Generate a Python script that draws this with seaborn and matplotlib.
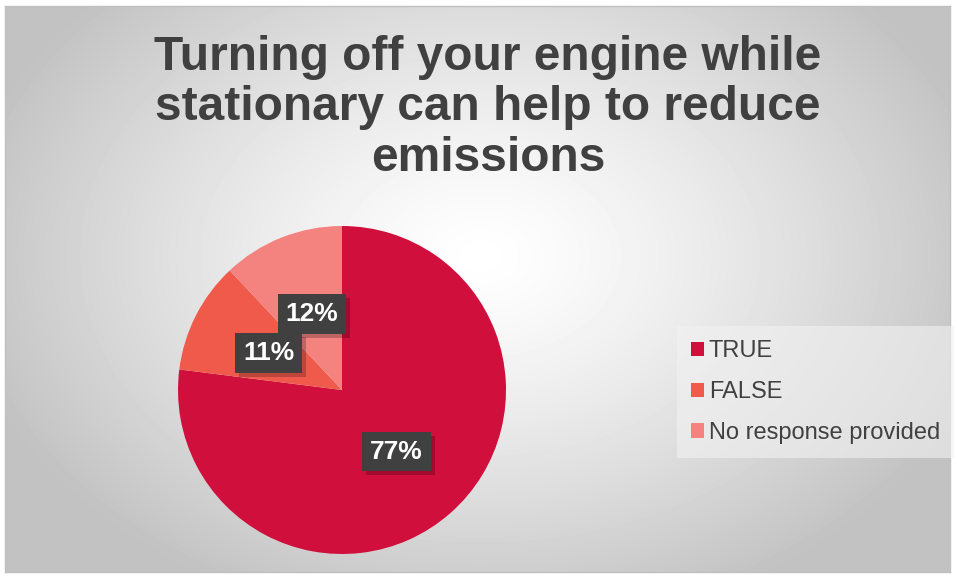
import numpy as np
import matplotlib
matplotlib.use("Agg")
import matplotlib.pyplot as plt
from matplotlib.patches import Rectangle
import seaborn as sns

# data
categories = ["TRUE", "FALSE", "No response provided"]
shares = [77, 11, 12]
colors = ["#D00F3C", "#F05A4A", "#F4827F"]
title = "Turning off your engine while\nstationary can help to reduce\nemissions"

sns.set_theme(style="white")
plt.rcParams["font.family"] = ["Liberation Sans", "DejaVu Sans"]

W, H = 957, 578
fig = plt.figure(figsize=(W / 100, H / 100), dpi=100, facecolor="white")

# gradient background panel
bg = fig.add_axes([5 / W, 6 / H, 945 / W, 566 / H])
yy, xx = np.mgrid[0:566, 0:945]
d = np.sqrt(((xx - 475) / 560) ** 2 + ((yy - 250) / 400) ** 2)
shade = np.clip(1.0 - 0.26 * d ** 1.3, 0.76, 1.0)
bg.imshow(shade, cmap="gray", vmin=0, vmax=1, aspect="auto")
bg.set_xticks([])
bg.set_yticks([])
for s in bg.spines.values():
    s.set_color("#c0c0c0")
    s.set_linewidth(1)

fig.text(488 / W, 1 - 108 / H, title, ha="center", va="center",
         fontsize=34.5, fontweight="bold", color="#404040", linespacing=1.16)

# pie
cx, cy, r = 342, 390, 164
ax = fig.add_axes([(cx - r) / W, (H - cy - r) / H, 2 * r / W, 2 * r / H])
wedges, texts, autotexts = ax.pie(
    shares, colors=colors, startangle=90, counterclock=False,
    autopct="%d%%", pctdistance=0.5,
    wedgeprops=dict(linewidth=0),
)
for t in autotexts:
    t.set_color("white")
    t.set_fontsize(19)
    t.set_fontweight("bold")
    t.set_zorder(5)
    t.set_bbox(dict(boxstyle="square,pad=0.3", facecolor="#404040",
                    edgecolor="none"))
ax.set_xlim(-1, 1)
ax.set_ylim(-1, 1)
ax.set_aspect("equal")
ax.axis("off")

# drop shadows behind the label boxes
fig.canvas.draw()
inv = ax.transData.inverted()
for t in autotexts:
    ext = t.get_bbox_patch().get_window_extent()
    (x0, y0), (x1, y1) = inv.transform([(ext.x0 + 4, ext.y0 - 4),
                                        (ext.x1 + 4, ext.y1 - 4)])
    ax.add_patch(Rectangle((x0, y0), x1 - x0, y1 - y0, facecolor="black",
                           alpha=0.22, edgecolor="none", zorder=3,
                           clip_on=False))

leg = fig.legend(wedges, categories, loc="center left",
                 bbox_to_anchor=(677 / W, 1 - 392 / H),
                 fontsize=17, frameon=True, fancybox=False,
                 handlelength=0.55, handleheight=0.55, handletextpad=0.2,
                 labelspacing=0.8, borderpad=0.6, borderaxespad=0,
                 labelcolor="#404040")
leg.get_frame().set_facecolor("#f2f2f2")
leg.get_frame().set_alpha(0.6)
leg.get_frame().set_edgecolor("none")

fig.savefig("out.png", dpi=100, facecolor="white")
